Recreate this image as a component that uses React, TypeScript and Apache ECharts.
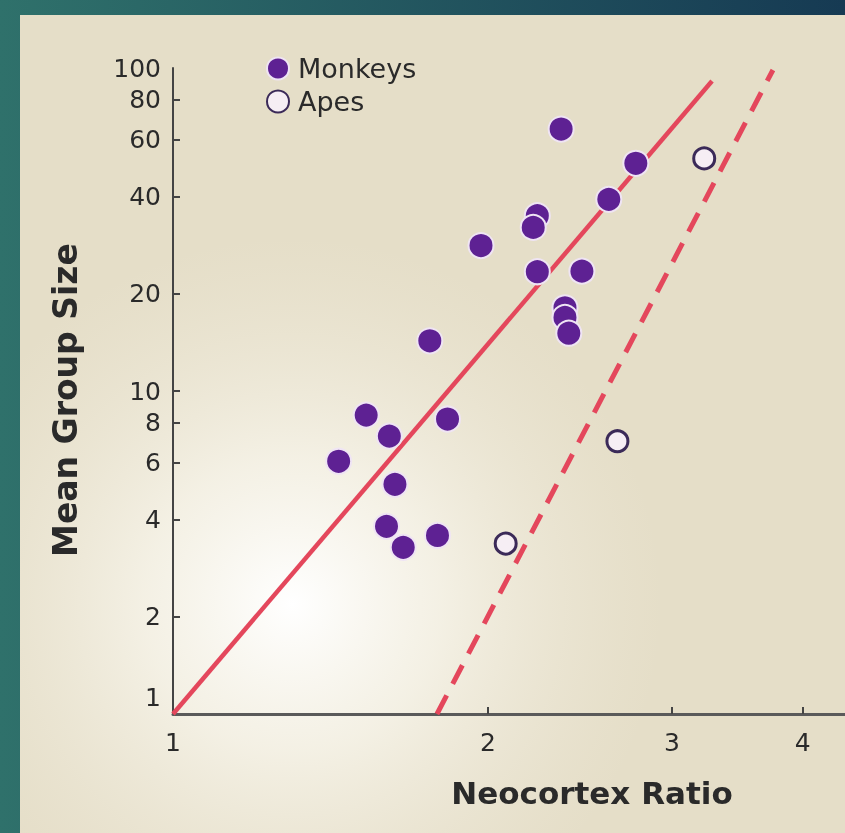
import React, { useEffect, useRef } from "react";
import * as echarts from "echarts";

const monkeysX = [2.35, 2.77, 2.61, 2.23, 2.21, 1.97, 2.23, 2.46, 2.37, 2.37, 2.39, 1.76, 1.53, 1.61, 1.83, 1.44, 1.63, 1.6, 1.66, 1.79];
const monkeysY = [64.7, 50.7, 39.2, 34.9, 32.1, 28.2, 23.4, 23.5, 18.1, 16.9, 15.1, 14.3, 8.42, 7.25, 8.19, 6.06, 5.14, 3.81, 3.28, 3.57];
const apesX = [3.22, 2.66, 2.08];
const apesY = [52.5, 6.99, 3.37];
const monkeyFitX = [1, 3.276];
const monkeyFitY = [1, 91.1];
const apeFitX = [1.788, 3.746];
const apeFitY = [1, 98.6];
const yTickValues = [2, 4, 6, 8, 10, 20, 40, 60, 80];
const yLabelValues = [1, 2, 4, 6, 8, 10, 20, 40, 60, 80, 100];
const xTickValues = [2, 3, 4];
const xLabelValues = [1, 2, 3, 4];

const zip = (a: number[], b: number[]) => a.map((v, i) => [v, b[i]]);

export default function App() {
  const ref = useRef<HTMLDivElement>(null);
  useEffect(() => {
    const chart = echarts.init(ref.current!, null, { renderer: "svg" });
    const font = "'DejaVu Sans', 'Liberation Sans', Arial, sans-serif";
    const red = "#e4475c";
    const ink = "#2a2a2a";
    chart.setOption({
      animation: false,
      textStyle: { fontFamily: font },
      graphic: [
        {
          type: "rect",
          z: -10,
          silent: true,
          shape: { x: 0, y: 0, width: 845, height: 833 },
          style: {
            fill: new echarts.graphic.LinearGradient(0, 0, 1, 0, [
              { offset: 0, color: "#2f716b" },
              { offset: 1, color: "#163a53" },
            ]),
          },
        },
        {
          type: "rect",
          z: -9,
          silent: true,
          shape: { x: 20, y: 15, width: 825, height: 818 },
          style: { fill: "#e5dec8" },
        },
        {
          type: "rect",
          z: -8,
          silent: true,
          shape: { x: 20, y: 15, width: 825, height: 818 },
          style: {
            fill: new echarts.graphic.RadialGradient(0.33, 0.72, 0.45, [
              { offset: 0, color: "rgba(255,255,255,1)" },
              { offset: 0.4, color: "rgba(250,248,240,0.7)" },
              { offset: 1, color: "rgba(240,235,220,0)" },
            ]),
          },
        },
      ],
      grid: { left: 173, right: 0, top: 68, bottom: 119, containLabel: false },
      legend: {
        orient: "vertical",
        left: 261,
        top: 50,
        itemWidth: 22,
        itemHeight: 22,
        itemGap: 6,
        icon: "circle",
        textStyle: { fontSize: 27, color: ink, fontFamily: font, padding: [0, 0, 0, 4] },
        data: ["Monkeys", "Apes"],
      },
      xAxis: {
        type: "log",
        logBase: 10,
        min: 1,
        max: 4.39,
        name: "Neocortex Ratio",
        nameLocation: "middle",
        nameGap: 63,
        nameTextStyle: { fontSize: 31, fontWeight: "bold", color: ink, fontFamily: font, padding: [0, 0, 0, 166] },
        axisLine: { show: true, lineStyle: { color: "#5a5a5a", width: 3 } },
        axisTick: { show: true, inside: true, length: 7, customValues: xTickValues, lineStyle: { color: "#444", width: 2 } },
        axisLabel: { customValues: xLabelValues, fontSize: 25, color: ink, margin: 16, fontFamily: font },
        splitLine: { show: false },
        minorTick: { show: false },
      },
      yAxis: {
        type: "log",
        logBase: 10,
        min: 1,
        max: 100,
        name: "Mean Group Size",
        nameLocation: "middle",
        nameGap: 91,
        nameRotate: 90,
        nameTextStyle: { fontSize: 33, fontWeight: "bold", color: ink, fontFamily: font, padding: [0, 18, 0, 0] },
        axisLine: { show: true, lineStyle: { color: "#444", width: 2 } },
        axisTick: { show: true, inside: true, length: 7, customValues: yTickValues, lineStyle: { color: "#444", width: 2 } },
        axisLabel: {
          customValues: yLabelValues,
          fontSize: 25,
          color: ink,
          margin: 12,
          fontFamily: font,
          formatter: (v: number) => (v === 1 ? "{one|1}" : String(v)),
          rich: { one: { fontSize: 25, color: ink, fontFamily: font, padding: [0, 0, 34, 0] } },
        },
        splitLine: { show: false },
        minorTick: { show: false },
      },
      series: [
        {
          name: "Monkey fit",
          type: "line",
          data: zip(monkeyFitX, monkeyFitY),
          symbol: "none",
          lineStyle: { color: red, width: 4.5 },
          z: 2,
        },
        {
          name: "Ape fit",
          type: "line",
          data: zip(apeFitX, apeFitY),
          symbol: "none",
          lineStyle: { color: red, width: 5, type: [21, 13] },
          z: 2,
        },
        {
          name: "Monkeys",
          type: "scatter",
          data: zip(monkeysX, monkeysY),
          symbolSize: 25,
          itemStyle: { color: "#5e2193", borderColor: "#efe4f4", borderWidth: 2, opacity: 1 },
          z: 3,
        },
        {
          name: "Apes",
          type: "scatter",
          data: zip(apesX, apesY),
          symbolSize: 21,
          itemStyle: { color: "#f6eef4", borderColor: "#3b2a58", borderWidth: 3, opacity: 1 },
          z: 3,
        },
      ],
    });
    return () => chart.dispose();
  }, []);
  return <div ref={ref} style={{ position: "fixed", left: 0, top: 0, width: 845, height: 833 }} />;
}
